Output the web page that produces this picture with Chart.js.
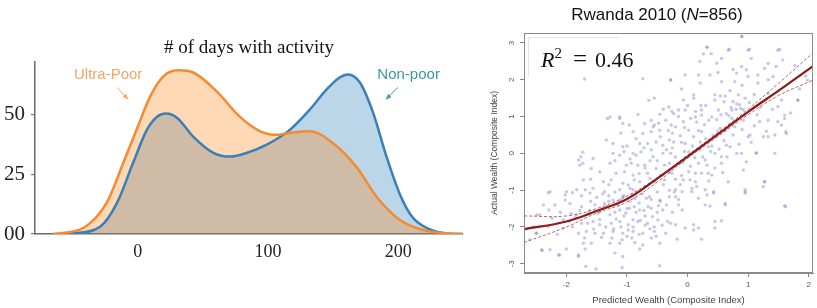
<!DOCTYPE html>
<html lang="en">
<head>
<meta charset="UTF-8">
<title>Days with activity / Rwanda 2010</title>
<script src="https://cdn.jsdelivr.net/npm/chart.js@4"></script>
<style>
  html,body{margin:0;padding:0;background:#fff;}
  body{width:817px;height:308px;position:relative;overflow:hidden;}
  #boxLeft{position:absolute;left:0;top:0;width:470px;height:308px;}
  #boxRight{position:absolute;left:470px;top:0;width:347px;height:308px;}
  .ltitle{position:absolute;left:149px;top:36px;width:200px;text-align:center;
    font:19px "Liberation Serif","Times New Roman",serif;color:#111;line-height:22px;white-space:nowrap;}
  .rtitle{position:absolute;left:557px;top:5px;width:200px;text-align:center;
    font:17px "Liberation Sans",Arial,sans-serif;color:#111;line-height:20px;}
  .r2{position:absolute;left:528px;top:37px;padding:8px 0 0 12px;width:78px;height:30px;
    border-top:1px solid #e4e4e4;border-left:1px solid #e4e4e4;background:#fff;
    font:22px "Liberation Serif","DejaVu Serif",serif;color:#111;white-space:nowrap;line-height:26px;}
  .r2 sup{font-size:15px;vertical-align:9px;line-height:0;}
  .r2 .eq{margin:0 8px 0 11px;font-size:25px;}
</style>
</head>
<body>
<div id="boxLeft"><canvas id="cLeft"></canvas></div>
<div id="boxRight"><canvas id="cRight"></canvas></div>
<div class="ltitle"># of days with activity</div>
<div class="rtitle">Rwanda 2010 (<i>N</i>=856)</div>
<div class="r2"><i>R</i><sup>2</sup><span class="eq">=</span>0.46</div>

<script>
// --- left: density of # of days with activity ---
const ultraX = [-65,-42,-24,-11,0,9.5,19.6,31,42.5,60.6,78.5,94,106.5,119,132,150,168,183.5,201,219,236,249];
const ultraY = [0,2.5,13,30,45,57.6,66,68.5,67.6,59.7,49,43,41.5,42.5,43,38,28,15.5,6,1.7,0.3,0];
const nonpoorX = [-52,-29,-16,-3.5,7,14.6,21.5,30,42.5,58,71,84,99,117,132,145,155,161.6,170.6,180.7,191,201,211,224,236,249];
const nonpoorY = [0,3,13,30,43.7,49,50.4,48.7,40.8,34,32.4,34,37.4,43.7,52,60.5,65.5,66.8,63.4,50.8,32.4,17,7,2,0.3,0];
const leftXTicks = [0,100,200];
const leftYTicks = [0,25,50];
const leftYLabels = ['00','25','50'];

// --- right: predicted vs actual wealth ---
const xTicksR = [-2,-1,0,1,2];
const yTicksR = [-3,-2,-1,0,1,2,3];
const fitX = [-2.7,-2.0,-1.46,-1.0,-0.53,0,0.56,1.0,1.55,2.07];
const fitY = [-2.06,-1.85,-1.54,-1.24,-0.72,-0.09,0.59,1.13,1.76,2.37];
const bandX = [-2.7,-2.0,-1.5,-1.0,-0.5,0,0.5,1.0,1.5,2.07];
const bandUp = [-1.70,-1.70,-1.50,-1.16,-0.66,-0.05,0.56,1.20,1.90,2.73];
const bandLo = [-2.42,-2.0,-1.62,-1.32,-0.78,-0.13,0.46,1.05,1.57,1.99];
const scatterPts = [
  [0.90,3.17],[0.32,2.88],[0.69,2.83],[1.02,2.83],[0.26,2.70],[1.52,2.83],[0.56,2.58],[1.05,2.58],[1.57,2.54],[1.33,2.45],
  [0.48,2.45],[0.89,2.36],[0.75,2.28],[0.97,2.27],[1.27,2.31],[1.46,2.36],[1.77,2.38],[0.18,2.13],[-0.04,2.13],[0.37,2.13],
  [0.81,2.18],[1.00,2.09],[1.16,2.13],[1.41,2.09],[-0.28,2.00],[0.21,1.91],[0.56,1.95],[0.78,1.95],[1.16,1.91],[1.33,2.00],
  [0.10,1.59],[0.45,1.59],[0.54,1.56],[0.62,1.56],[0.84,1.59],[0.95,1.50],[1.33,1.63],[1.82,1.45],[-0.07,1.45],[0.45,1.45],
  [0.75,1.41],[0.81,1.34],[0.86,1.32],[-0.26,1.14],[-0.15,1.18],[-0.04,1.18],[0.13,1.14],[0.23,1.18],[0.51,1.18],[0.73,1.18],
  [0.92,1.18],[1.49,1.27],[0.32,2.89],[0.39,2.71],[0.67,2.80],[0.89,3.18],[1.00,2.80],[1.49,2.80],[1.98,1.99],[1.82,1.44],
  [1.60,0.95],[1.62,0.59],[1.33,0.45],[1.55,0.77],[1.44,0.00],[1.13,0.00],[0.89,0.00],[1.27,-0.77],[0.95,-1.08],[0.62,-1.36],
  [0.45,-1.85],[0.18,-2.03],[1.62,-1.45],[1.00,0.45],[0.70,0.18],[0.56,-0.09],[0.29,-0.18],[0.13,-0.54],[0.04,-0.72],[0.34,-0.54],
  [-0.23,1.08],[-0.07,0.86],[0.13,0.99],[0.23,1.04],[0.40,0.99],[0.64,1.08],[0.73,0.95],[0.92,0.90],[1.19,0.86],[1.33,0.90],
  [1.49,0.86],[1.60,1.04],[-0.20,0.72],[0.02,0.63],[0.23,0.59],[0.54,0.68],[0.78,0.72],[1.03,0.50],[1.25,0.45],[1.44,0.50],
  [1.63,0.54],[-0.23,0.31],[-0.04,0.27],[0.21,0.31],[0.34,0.18],[0.64,0.22],[-0.28,0.00],[0.02,0.04],[0.45,0.00],[0.81,0.00],
  [1.14,0.02],[-0.15,-0.27],[0.18,-0.27],[0.56,-0.27],[0.97,-0.23],[-0.26,-0.54],[0.02,-0.50],[0.23,-0.54],[0.40,-0.59],[0.92,-0.45],
  [-0.07,-0.72],[0.13,-0.77],[0.67,-0.77],[1.27,-0.77],[-0.20,-0.99],[0.07,-0.95],[0.29,-0.99],[0.43,-1.04],[0.95,-0.99],[1.25,-0.90],
  [-0.09,-1.04],[0.07,-1.04],[0.32,-1.13],[0.43,-1.08],[0.95,-1.04],[-0.20,-1.18],[0.18,-1.22],[-0.15,-1.40],[0.29,-1.40],[0.37,-1.43],
  [0.62,-1.40],[1.60,-1.42],[-0.09,-1.54],[0.56,-1.83],[-0.28,-1.90],[-0.20,-1.94],[0.10,-1.94],[-0.04,-2.03],[0.10,-2.08],[0.45,-2.03],
  [-0.17,-2.33],[0.23,-2.33],
  [-1.28,0.99],[-1.12,0.99],[-0.82,1.06],[-0.46,1.06],[-1.07,0.81],[-0.96,0.77],[-0.71,0.81],[-0.55,0.77],[-0.36,0.90],[-0.27,0.77],
  [-1.34,0.36],[-1.23,0.27],[-0.90,0.59],[-0.74,0.54],[-0.60,0.59],[-0.46,0.63],[-1.07,0.18],[-0.79,0.27],[-0.66,0.27],[-0.52,0.31],
  [-0.41,0.22],[-0.30,0.36],[-1.73,0.03],[-1.56,-0.14],[-1.80,-0.18],[-1.78,-0.32],[-1.23,0.00],[-1.12,-0.05],[-0.90,0.00],[-0.77,0.04],
  [-0.57,-0.09],[-0.41,0.00],[-1.59,-0.41],[-1.28,-0.27],[-1.01,-0.32],[-0.93,-0.27],[-0.82,-0.32],[-0.71,-0.32],[-0.52,-0.41],[-0.30,-0.27],
  [-1.18,-0.54],[-1.04,-0.50],[-0.90,-0.59],[-0.66,-0.54],[-0.41,-0.59],[-1.72,-0.72],[-1.39,-0.77],[-1.26,-0.72],[-1.07,-0.81],[-0.98,-0.86],
  [-0.79,-0.77],[-0.55,-0.77],[-2.27,-1.04],[-2.00,-1.04],[-1.83,-0.99],[-1.69,-0.99],[-1.56,-0.95],[-1.37,-1.04],[-1.12,-0.99],[-0.90,-0.99],
  [-1.32,0.95],[-1.12,0.95],[-0.74,2.03],[-1.70,2.02],[-0.28,1.99],[-0.31,1.26],[-0.64,1.44],[-0.57,0.72],
  [-2.30,-1.07],[-2.02,-1.13],[-1.61,-1.08],[-2.38,-1.40],[-2.19,-1.40],[-1.94,-1.36],[-1.75,-1.45],[-1.53,-1.40],[-1.37,-1.36],[-1.23,-1.27],
  [-1.07,-1.18],[-0.87,-1.22],[-0.63,-1.18],[-0.46,-1.27],[-0.30,-1.18],[-2.49,-1.67],[-2.24,-1.76],[-1.83,-1.67],[-1.64,-1.63],[-1.45,-1.58],
  [-1.28,-1.67],[-1.12,-1.54],[-0.96,-1.49],[-0.79,-1.54],[-0.60,-1.49],[-0.41,-1.54],[-2.54,-1.99],[-2.30,-1.99],[-2.05,-2.03],[-1.75,-1.90],
  [-1.56,-1.85],[-1.45,-1.94],[-1.26,-1.90],[-1.12,-1.85],[-0.98,-1.94],[-0.82,-1.85],[-0.66,-1.90],[-0.49,-1.81],[-0.33,-1.85],[-2.49,-2.17],
  [-1.80,-2.17],[-1.67,-2.12],[-1.53,-2.17],[-1.39,-2.17],[-1.23,-2.12],[-1.07,-2.17],[-0.90,-2.12],[-0.74,-2.17],[-0.55,-2.12],[-0.36,-2.17],
  [-1.72,-2.44],[-1.59,-2.44],[-1.28,-2.44],[-1.12,-2.44],[-0.87,-2.42],[-0.74,-2.49],[-0.46,-2.44],[-2.40,-2.64],[-2.27,-2.62],[-2.00,-2.60],
  [-1.69,-2.60],[-0.79,-2.60],[-2.13,-2.76],[-1.80,-2.80],[-1.20,-2.71],[-1.07,-2.80],[-1.68,-3.07],[-1.51,-3.14],[-1.08,-3.10],[-0.46,-3.05],
  [-2.02,-1.27],[-1.90,-1.07],[-1.76,-0.09],[-1.73,-0.27],[-1.92,-1.63],[-2.29,-1.54],[-2.44,-1.67],[-2.50,-2.17],[-2.61,-2.35],[-2.41,-2.62],
  [-2.11,-2.76],[-1.80,-2.76],
  [-1.50,-1.20],[-1.40,-1.50],[-1.30,-1.30],[-1.20,-1.60],[-1.15,-1.40],[-1.05,-1.70],[-1.00,-1.50],[-0.95,-1.30],[-0.90,-1.80],[-0.85,-1.60],
  [-0.80,-1.35],[-0.75,-1.10],[-0.70,-1.70],[-0.65,-1.45],[-0.60,-1.25],[-0.55,-2.00],[-0.50,-1.60],[-0.45,-1.30],[-1.35,-2.00],[-1.25,-2.30],
  [-1.10,-2.00],[-1.00,-2.25],[-0.90,-2.00],[-0.80,-2.20],[-0.70,-1.95],[-0.60,-2.30],[-1.45,-1.80],[-1.55,-2.05],[-1.65,-1.90],[-1.70,-2.30],
  [-1.85,-1.75],[-1.90,-2.00],[-2.05,-1.80],[-2.15,-2.20],[-1.20,-1.05],[-1.05,-1.15],[-0.95,-0.95],[-0.85,-1.10],[-0.70,-0.90],[-0.50,-1.05],
  [-0.40,-0.85],[-0.35,-1.40],[-0.30,-1.00],[-0.25,-1.60],[-0.20,-0.70],[-0.15,-1.25],[-1.30,-0.85],[-1.40,-1.10],[-1.60,-1.30],[-1.75,-1.15],
  [-0.60,0.10],[-0.50,-0.20],[-0.45,0.45],[-0.35,0.10],[-0.25,0.55],[-0.20,-0.10],[-0.10,0.30],[-0.05,0.70],[0.05,-0.35],[0.10,0.45],
  [0.15,0.85],[0.20,0.10],[0.25,-0.10],[0.30,0.40],[0.35,0.90],[0.40,0.20],[0.45,-0.40],[0.50,0.60],[0.55,1.05],[0.60,0.35],
  [0.65,-0.10],[0.70,0.80],[0.75,0.50],[0.80,1.20],[0.85,0.25],[0.90,0.65],[-0.15,1.00],[-0.40,1.20],[-0.60,0.90],[-0.85,0.40],
  [-0.95,-0.15],[-1.10,0.55],[-0.70,-0.40],[-0.30,-0.50],[0.00,1.30],[0.10,1.50],[0.30,1.30],[0.60,1.40],[0.95,1.05],[1.10,0.75],
  [1.20,1.25],[1.30,0.60],[1.05,0.30],[0.35,-0.75],[0.15,-0.90],[-0.10,-0.60],[-0.45,-0.60],[0.70,1.70],[0.90,1.85],[1.10,1.60],
  [1.40,1.20],[1.55,1.45],[1.70,1.10],[1.85,1.75],[1.95,2.10],[0.50,2.20],[0.20,2.50],[-0.10,1.75],[-0.55,1.50],[-1.00,0.20],
  [-1.20,-0.20],[-1.45,-0.50],[-1.60,-0.70],[-0.80,-0.55],
  [-1.48,-1.62],[-1.33,-1.45],[-1.18,-1.78],[-1.02,-1.62],[-0.88,-1.45],[-0.72,-1.55],[-0.58,-1.72],[-0.42,-1.95],[-1.22,-2.05],[-0.98,-2.08],
  [-0.78,-1.82],[-0.62,-2.05],[-1.42,-2.28],[-1.08,-2.35],[-0.92,-2.30],[-0.52,-2.25],[-1.62,-1.55],[-1.78,-1.55],[-1.95,-1.85],[-2.10,-1.60],
  [-1.30,-1.15],[-1.12,-1.28],[-0.92,-1.12],[-0.68,-1.22],[-0.48,-1.42],[-0.22,-1.05],[-0.12,-0.85],[-0.38,-0.72],[-0.62,-0.68],[-0.88,-0.72],
  [-0.05,0.05],[0.08,0.20],[0.18,0.62],[0.28,0.78],[0.42,0.48],[0.48,0.92],[0.62,0.62],[0.68,1.02],[0.78,0.88],[0.88,1.22],
  [0.38,0.05],[0.52,0.12],[-0.12,0.48],[-0.32,0.62],[-0.48,0.82],[0.05,0.95],[0.22,1.30],[0.72,1.25],[1.02,1.38],[1.15,1.05],
  [0.12,-0.12],[-0.08,-0.25],[0.32,-0.32],[-0.38,-0.32],[-0.62,-0.20],[-0.85,-0.05],[-1.05,0.05],[-0.72,0.15],[-0.25,0.15],[0.58,-0.52]
];

const serif = '"Liberation Serif", "Times New Roman", serif';
const sans = '"Liberation Sans", Arial, sans-serif';

// arrows + group names on the density chart
const notesPlugin = {
  id: 'notes',
  afterDatasetsDraw(chart) {
    const {ctx, scales: {x, y}} = chart;
    const notes = [
      {text: 'Ultra-Poor', x: -22.8, y: 66.8, color: '#f5a463', from: [-15.9, 61.3], to: [-7.4, 56.3]},
      {text: 'Non-poor', x: 208, y: 66.8, color: '#3a97a6', from: [199.7, 61.3], to: [190.5, 56.3]}
    ];
    ctx.save();
    ctx.font = '15px ' + sans;
    ctx.textAlign = 'center';
    ctx.textBaseline = 'middle';
    notes.forEach(n => {
      ctx.fillStyle = n.color;
      ctx.fillText(n.text, x.getPixelForValue(n.x), y.getPixelForValue(n.y));
      const x1 = x.getPixelForValue(n.from[0]), y1 = y.getPixelForValue(n.from[1]);
      const x2 = x.getPixelForValue(n.to[0]), y2 = y.getPixelForValue(n.to[1]);
      ctx.strokeStyle = n.color;
      ctx.lineWidth = 1;
      ctx.beginPath(); ctx.moveTo(x1, y1); ctx.lineTo(x2, y2); ctx.stroke();
      const a = Math.atan2(y2 - y1, x2 - x1);
      ctx.beginPath();
      ctx.moveTo(x2, y2);
      ctx.lineTo(x2 - 6 * Math.cos(a - 0.4), y2 - 6 * Math.sin(a - 0.4));
      ctx.lineTo(x2 - 6 * Math.cos(a + 0.4), y2 - 6 * Math.sin(a + 0.4));
      ctx.closePath(); ctx.fill();
    });
    ctx.restore();
  }
};

new Chart(document.getElementById('cLeft'), {
  type: 'line',
  data: {
    datasets: [
      {
        label: 'Ultra-Poor',
        data: ultraX.map((v, i) => ({x: v, y: ultraY[i]})),
        borderColor: 'rgb(245,138,48)',
        backgroundColor: 'rgba(255,127,14,0.3)',
        fill: 'origin', borderWidth: 2.5, pointRadius: 0,
        cubicInterpolationMode: 'monotone'
      },
      {
        label: 'Non-poor',
        data: nonpoorX.map((v, i) => ({x: v, y: nonpoorY[i]})),
        borderColor: 'rgb(58,128,184)',
        backgroundColor: 'rgba(31,119,180,0.3)',
        fill: 'origin', borderWidth: 2.5, pointRadius: 0,
        cubicInterpolationMode: 'monotone'
      }
    ]
  },
  options: {
    responsive: true, maintainAspectRatio: false, animation: false,
    layout: {padding: {top: 62, right: 8, left: 0, bottom: 0}},
    plugins: {
      legend: {display: false},
      tooltip: {enabled: false},
      filler: {drawTime: 'beforeDatasetsDraw'}
    },
    scales: {
      x: {
        type: 'linear', min: -79, max: 249,
        afterBuildTicks: s => { s.ticks = leftXTicks.map(v => ({value: v})); },
        afterFit: s => { s.height = 74; },
        grid: {display: false, drawTicks: false},
        border: {color: '#6b6b6b', width: 1.5},
        ticks: {color: '#222', padding: 7, font: {family: serif, size: 18}}
      },
      y: {
        min: 0, max: 72,
        afterBuildTicks: s => { s.ticks = leftYTicks.map(v => ({value: v})); },
        afterFit: s => { s.width = 35; },
        grid: {drawOnChartArea: false, tickLength: 4, color: '#777', lineWidth: 1.2},
        border: {color: '#6b6b6b', width: 1.5},
        ticks: {
          color: '#222', padding: 6, font: {family: serif, size: 21},
          callback: v => leftYLabels[leftYTicks.indexOf(v)]
        }
      }
    }
  },
  plugins: [notesPlugin]
});

// frame round the plot + rotated y tick labels (R style)
const framePlugin = {
  id: 'frame',
  afterDraw(chart) {
    const {ctx, chartArea: a, scales: {y}} = chart;
    ctx.save();
    ctx.strokeStyle = '#8a8a8a';
    ctx.lineWidth = 1;
    ctx.strokeRect(a.left + 0.5, a.top + 0.5, a.right - a.left - 1, a.bottom - a.top - 1);
    ctx.font = '8px ' + sans;
    ctx.fillStyle = '#555';
    ctx.textAlign = 'center';
    ctx.textBaseline = 'middle';
    yTicksR.forEach(v => {
      ctx.save();
      ctx.translate(a.left - 12, y.getPixelForValue(v));
      ctx.rotate(-Math.PI / 2);
      ctx.fillText(String(v), 0, 0);
      ctx.restore();
    });
    ctx.restore();
  }
};

new Chart(document.getElementById('cRight'), {
  type: 'scatter',
  data: {
    datasets: [
      {
        type: 'line', data: fitX.map((v, i) => ({x: v, y: fitY[i]})),
        borderColor: '#8b1a1a', borderWidth: 2.2, pointRadius: 0, tension: 0.4, fill: false
      },
      {
        type: 'line', data: bandX.map((v, i) => ({x: v, y: bandUp[i]})),
        borderColor: 'rgba(175,70,70,0.85)', borderWidth: 1, borderDash: [3, 2],
        pointRadius: 0, tension: 0.4, fill: false
      },
      {
        type: 'line', data: bandX.map((v, i) => ({x: v, y: bandLo[i]})),
        borderColor: 'rgba(175,70,70,0.85)', borderWidth: 1, borderDash: [3, 2],
        pointRadius: 0, tension: 0.4, fill: false
      },
      {
        data: scatterPts.map(p => ({x: p[0], y: p[1]})),
        pointRadius: 1.7, borderWidth: 0,
        backgroundColor: 'rgba(115,115,205,0.4)'
      }
    ]
  },
  options: {
    responsive: true, maintainAspectRatio: false, animation: false,
    layout: {padding: {top: 33, right: 2, left: 0, bottom: 0}},
    plugins: {legend: {display: false}, tooltip: {enabled: false}},
    scales: {
      x: {
        type: 'linear', min: -2.7, max: 2.07,
        afterBuildTicks: s => { s.ticks = xTicksR.map(v => ({value: v})); },
        afterFit: s => { s.height = 35; },
        grid: {drawOnChartArea: false, tickLength: 4, color: '#888'},
        border: {color: '#8a8a8a'},
        ticks: {color: '#555', padding: 3, font: {family: sans, size: 8}},
        title: {
          display: true, text: 'Predicted Wealth (Composite Index)', color: '#444',
          font: {family: sans, size: 9.5}, padding: {top: 0, bottom: 2}
        }
      },
      y: {
        min: -3.25, max: 3.27,
        afterBuildTicks: s => { s.ticks = yTicksR.map(v => ({value: v})); },
        afterFit: s => { s.width = 54; },
        grid: {drawOnChartArea: false, tickLength: 4, color: '#888'},
        border: {color: '#8a8a8a'},
        ticks: {display: false},
        title: {
          display: true, text: 'Actual Wealth (Composite Index)', color: '#444',
          font: {family: sans, size: 8.5}, padding: {top: 20, bottom: 0}
        }
      }
    }
  },
  plugins: [framePlugin]
});
</script>
</body>
</html>
